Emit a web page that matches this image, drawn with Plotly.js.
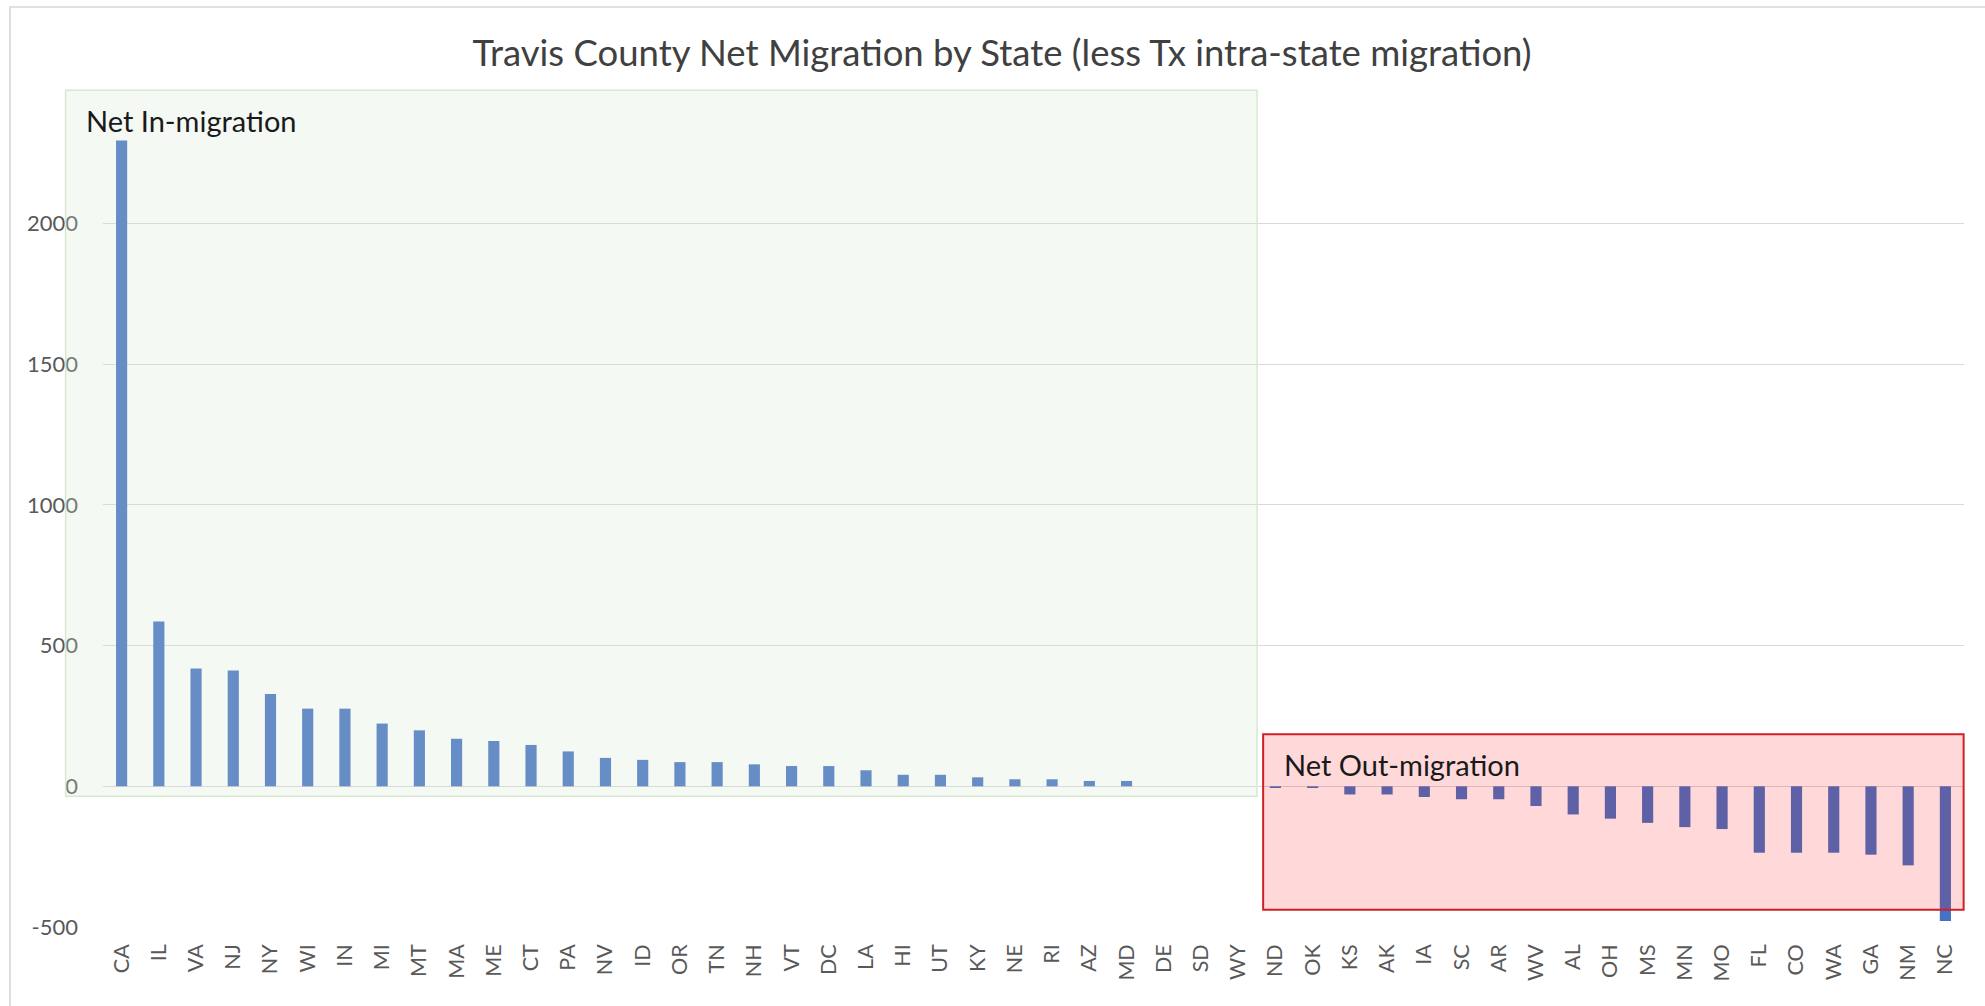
<!DOCTYPE html>
<html>
<head>
<meta charset="utf-8">
<script src="https://cdn.plot.ly/plotly-3.0.1.min.js"></script>
<style>
  html, body { margin: 0; padding: 0; background: #ffffff; }
  #wrap { position: relative; width: 1985px; height: 1006px; overflow: hidden; }
  #chart { position: absolute; left: 0; top: 0; width: 1985px; height: 1006px; }
  /* thin sheet frame around the chart object */
  #frame { position: absolute; left: 9px; top: 6px; width: 1980px; height: 1000px;
           border-top: 2px solid #e0e0e0; border-left: 2px solid #dcdcdc; pointer-events: none; }
</style>
</head>
<body>
<div id="wrap">
  <div id="chart"></div>
  <div id="frame"></div>
</div>
<script>
// Net migration into Travis County by state of origin (Texas excluded)
const states = ["CA","IL","VA","NJ","NY","WI","IN","MI","MT","MA","ME","CT","PA","NV","ID","OR","TN","NH","VT","DC",
                "LA","HI","UT","KY","NE","RI","AZ","MD","DE","SD","WY","ND","OK","KS","AK","IA","SC","AR","WV","AL",
                "OH","MS","MN","MO","FL","CO","WA","GA","NM","NC"];
const netMigration = [2295, 586, 419, 412, 328, 276, 276, 223, 199, 169, 161, 147, 124, 101, 94, 86, 86, 78, 72, 72,
                      57, 41, 41, 32, 25, 25, 19, 19, 0, 0, 0, -6, -6, -29, -29, -38, -46, -46, -70, -100,
                      -115, -130, -145, -152, -236, -236, -236, -243, -281, -479];
const yTicks = [-500, 0, 500, 1000, 1500, 2000];

const titleText = "Travis County Net Migration by State (less Tx intra-state migration)";
const inLabel = "Net In-migration";
const outLabel = "Net Out-migration";

const font = "Lato, 'Open Sans', sans-serif";

const trace = {
  type: "bar",
  x: states,
  y: netMigration,
  marker: { color: "#4472C4" },
  hoverinfo: "x+y"
};

const layout = {
  width: 1985,
  height: 1006,
  margin: { l: 103.4, r: 21.4, t: 110.6, b: 79.3, pad: 0 },
  paper_bgcolor: "#ffffff",
  plot_bgcolor: "#ffffff",
  showlegend: false,
  bargap: 0.70,
  font: { family: font, color: "#595959" },
  title: {
    text: titleText,
    font: { family: font, size: 36.5, color: "#404040" },
    xref: "container", x: 0.5048, xanchor: "center",
    yref: "container", y: 0.947, yanchor: "middle"
  },
  xaxis: {
    type: "category",
    tickangle: -90,
    tickfont: { family: font, size: 21.5, color: "#595959" },
    showgrid: false,
    showline: false,
    zeroline: false,
    ticks: "",
    ticklabelstandoff: 12
  },
  yaxis: {
    range: [-500, 2400],
    tickmode: "array",
    tickvals: yTicks,
    ticktext: yTicks.map(String),
    tickfont: { family: font, size: 22, color: "#595959" },
    gridcolor: "#D9D9D9",
    gridwidth: 1,
    zeroline: true,
    zerolinecolor: "#D9D9D9",
    zerolinewidth: 1,
    showline: false,
    ticks: "",
    ticklabelstandoff: 24
  },
  shapes: [
    // in-migration region
    { type: "rect", xref: "paper", yref: "paper", layer: "above",
      x0: -0.0201, x1: 0.6201, y0: 0.1602, y1: 1.0253,
      fillcolor: "rgba(213,232,205,0.24)", line: { color: "#D8E8D0", width: 1.5 } },
    // out-migration region
    { type: "rect", xref: "paper", yref: "paper", layer: "above",
      x0: 0.6234, x1: 0.9998, y0: 0.0211, y1: 0.2361,
      fillcolor: "rgba(255,0,0,0.15)", line: { color: "#D11F26", width: 2 } }
  ],
  annotations: [
    { text: inLabel, xref: "paper", yref: "paper", x: -0.0104, y: 0.9885,
      xanchor: "left", yanchor: "middle", showarrow: false,
      font: { family: font, size: 29, color: "#1a1a1a" } },
    { text: outLabel, xref: "paper", yref: "paper", x: 0.6337, y: 0.1995,
      xanchor: "left", yanchor: "middle", showarrow: false,
      font: { family: font, size: 29, color: "#1a1a1a" } }
  ]
};

Plotly.newPlot("chart", [trace], layout, { displayModeBar: false, staticPlot: true });
</script>
</body>
</html>
